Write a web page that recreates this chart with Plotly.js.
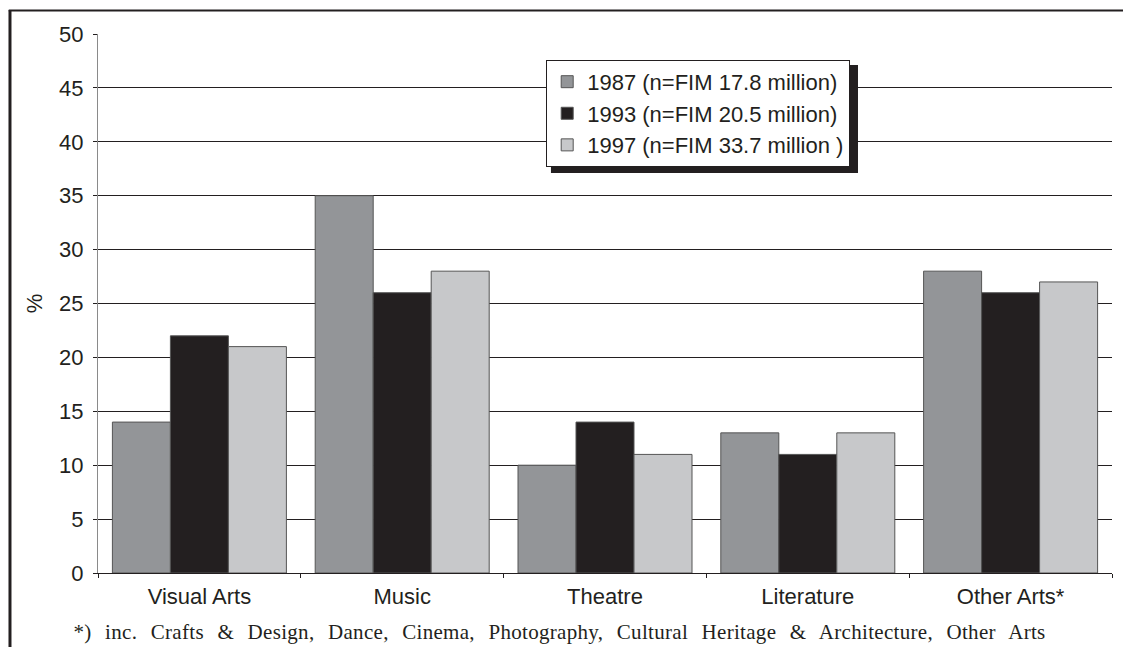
<!DOCTYPE html>
<html>
<head>
<meta charset="utf-8">
<script src="https://cdn.plot.ly/plotly-3.0.1.min.js"></script>
<style>
html,body{margin:0;padding:0;background:#fff;}
#chart{width:1123px;height:647px;}
#chart .annotation-text{word-spacing:8px;letter-spacing:0.3px;}
</style>
</head>
<body>
<div id="chart"></div>
<script>
const categories = ["Visual Arts", "Music", "Theatre", "Literature", "Other Arts*"];
const seriesNames = ["1987 (n=FIM 17.8 million)", "1993 (n=FIM 20.5 million)", "1997 (n=FIM 33.7 million )"];
const values1987 = [14, 35, 10, 13, 28];
const values1993 = [22, 26, 14, 11, 26];
const values1997 = [21, 28, 11, 13, 27];
const yTicks = [0, 5, 10, 15, 20, 25, 30, 35, 40, 45, 50];
const footnote = "*) inc. Crafts & Design, Dance, Cinema, Photography, Cultural Heritage & Architecture, Other Arts";

const colors = ["#939598", "#231f20", "#c7c8ca"];
const allValues = [values1987, values1993, values1997];
const sans = "Liberation Sans, Arial, sans-serif";

const traces = allValues.map((v, i) => ({
  type: "bar",
  x: categories,
  y: v,
  name: seriesNames[i],
  marker: {color: colors[i], line: {color: "#555555", width: 1}},
  hoverinfo: "skip"
}));

const layout = {
  width: 1123, height: 647,
  margin: {l: 98, r: 11, t: 34, b: 74},
  paper_bgcolor: "#ffffff",
  plot_bgcolor: "#ffffff",
  font: {family: sans, color: "#231f20", size: 22},
  barmode: "group",
  bargap: 0.142,
  bargroupgap: 0,
  showlegend: true,
  legend: {
    x: 0.442, y: 0.952, xanchor: "left", yanchor: "top",
    bgcolor: "#ffffff", bordercolor: "#231f20", borderwidth: 1,
    font: {family: sans, size: 22, color: "#231f20"},
    itemwidth: 30, tracegroupgap: 0
  },
  xaxis: {
    showline: true, linecolor: "#231f20", linewidth: 1,
    ticks: "outside", tickson: "boundaries", ticklen: 4, tickcolor: "#231f20",
    tickfont: {family: sans, size: 22, color: "#231f20"},
    ticklabelstandoff: 4,
    showgrid: false, fixedrange: true
  },
  yaxis: {
    range: [0, 50], tickvals: yTicks,
    showline: true, linecolor: "#8a8a8a", linewidth: 1,
    ticks: "outside", ticklen: 4, tickcolor: "#231f20",
    ticklabelstandoff: 5,
    showgrid: true, gridcolor: "#231f20", gridwidth: 1,
    zeroline: false,
    tickfont: {family: sans, size: 22, color: "#231f20"},
    title: {text: "%", font: {family: sans, size: 22, color: "#231f20"}, standoff: 10},
    fixedrange: true
  },
  shapes: [
    {type: "rect", xref: "paper", yref: "paper", x0: 0.4467, x1: 0.7495, y0: 0.7421, y1: 0.9425, fillcolor: "#231f20", line: {width: 0}, layer: "above"},
    {type: "line", xref: "paper", yref: "paper", x0: -0.0868, x1: -0.0868, y0: 1.0445, y1: -0.2, line: {color: "#231f20", width: 3}},
    {type: "line", xref: "paper", yref: "paper", x0: -0.0880, x1: 1.02, y0: 1.0436, y1: 1.0436, line: {color: "#231f20", width: 2}}
  ],
  annotations: [
    {xref: "paper", yref: "paper", x: 0.455, y: -0.109, xanchor: "center", yanchor: "middle", showarrow: false,
     text: footnote, font: {family: "Liberation Serif, Times New Roman, serif", size: 21, color: "#231f20"}}
  ]
};

Plotly.newPlot("chart", traces, layout, {displayModeBar: false, staticPlot: true});
</script>
</body>
</html>
